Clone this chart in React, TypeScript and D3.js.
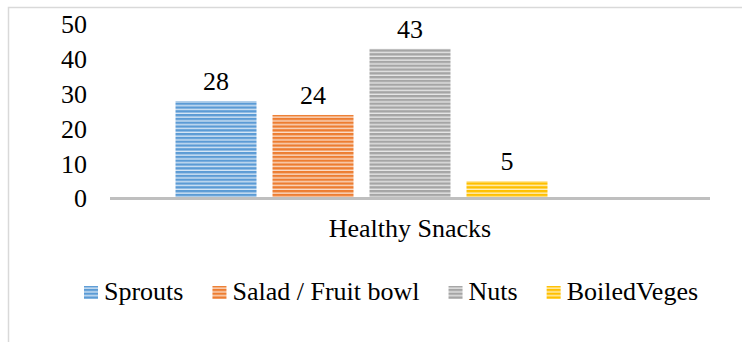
import React from "react";
import * as d3 from "d3";

const categories = ["Healthy Snacks"];
const seriesNames = ["Sprouts", "Salad / Fruit bowl", "Nuts", "BoiledVeges"];
const seriesValues = [28, 24, 43, 5];
const slotNames = [...seriesNames, "(blank)"];
const yTicks = [0, 10, 20, 30, 40, 50];

const colors = ["#5B9BD5", "#ED7D31", "#A5A5A5", "#FFC000"];
const tints = ["#d6e6f5", "#fadcc8", "#e6e6e6", "#fff0bf"];

const W = 742;
const H = 342;
const FS = 26;

// Times-metric advance widths (em) for legend layout
const advance: Record<string, number> = {
  S: 0.556, p: 0.5, r: 0.333, o: 0.5, u: 0.5, t: 0.278, s: 0.389, a: 0.444, l: 0.278, d: 0.5,
  " ": 0.25, "/": 0.278, F: 0.556, i: 0.278, b: 0.5, w: 0.722, N: 0.722, B: 0.667, e: 0.444, V: 0.722, g: 0.5,
};
function measure(text: string): number {
  let w = 0;
  for (const ch of text) w += (advance[ch] ?? 0.5) * FS;
  return w;
}

export default function App() {
  const x0 = d3.scaleBand<string>().domain(categories).range([110, 710]).paddingInner(0).paddingOuter(0.1397);
  const x1 = d3.scaleBand<string>().domain(slotNames).range([0, x0.bandwidth()]).paddingInner(0.165).paddingOuter(0);
  const y = d3.scaleLinear().domain([0, 50]).range([198.5, 24.5]);

  const legendItems: { name: string; i: number; x: number }[] = [];
  let lx = 84;
  seriesNames.forEach((name, i) => {
    legendItems.push({ name, i, x: lx });
    lx += 14 + 6 + measure(name) + 29;
  });

  return (
    <svg width={W} height={H} style={{ display: "block", position: "absolute", left: 0, top: 0, background: "#fff" }}>
      <defs>
        {colors.map((c, i) => (
          <pattern key={i} id={`pat${i}`} patternUnits="userSpaceOnUse" width={8} height={3.8}>
            <rect x={0} y={0} width={8} height={3.8} fill={tints[i]} />
            <rect x={0} y={0} width={8} height={2.4} fill={c} />
          </pattern>
        ))}
      </defs>
      <rect x={8.5} y={7.5} width={W + 10} height={H + 10} fill="none" stroke="#d9d9d9" strokeWidth={1.5} />

      <g style={{ fontFamily: "Liberation Serif", fontSize: FS }}>
        {yTicks.map((t) => (
          <text key={t} x={87} y={y(t) + 8.8} textAnchor="end">
            {t}
          </text>
        ))}

        {categories.map((cat) => (
          <g key={cat} transform={`translate(${x0(cat)},0)`}>
            {seriesValues.map((v, i) => {
              const bx = x1(seriesNames[i])!;
              const by = y(v);
              return (
                <g key={i}>
                  <rect x={bx} y={by} width={x1.bandwidth()} height={y(0) - by} fill={`url(#pat${i})`} />
                  <text x={bx + x1.bandwidth() / 2} y={by - 11} textAnchor="middle">
                    {v}
                  </text>
                </g>
              );
            })}
          </g>
        ))}

        <line x1={110} x2={710} y1={y(0)} y2={y(0)} stroke="#bfbfbf" strokeWidth={3} />

        {categories.map((cat) => (
          <text key={cat} x={x0(cat)! + x0.bandwidth() / 2} y={237} textAnchor="middle">
            {cat}
          </text>
        ))}

        {legendItems.map((it) => (
          <g key={it.name}>
            <rect x={it.x} y={286} width={14} height={13} fill={`url(#pat${it.i})`} />
            <text x={it.x + 20} y={300}>
              {it.name}
            </text>
          </g>
        ))}
      </g>
    </svg>
  );
}
